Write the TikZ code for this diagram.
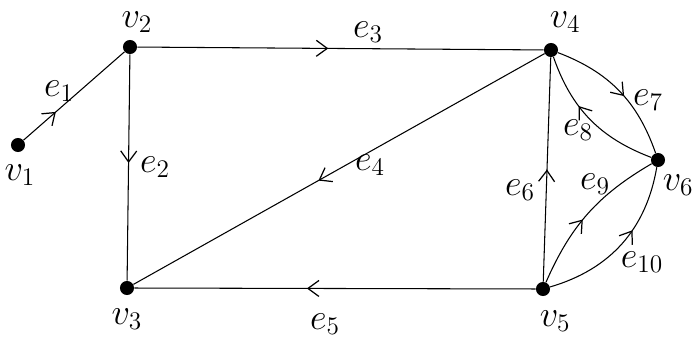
\documentclass[tikz,border=0pt]{standalone}
\usepackage{tikz}
\usetikzlibrary{positioning, arrows.meta, decorations.markings}
\tikzset{
  vtx/.style     = {circle, fill=black, inner sep=0pt, minimum size=8pt},
  vlbl/.style    = {inner sep=0pt, font=\huge},
  elbl/.style    = {inner sep=0pt, font=\huge},
  gedge/.style   = {line width=0.6pt},
  midarr/.style  = {gedge, postaction={decorate},
                    decoration={markings,
                      mark=at position #1 with {\arrow{Straight Barb[length=2.2mm, width=3.2mm, line width=0.7pt]}}}},
}

\begin{document}
\begin{tikzpicture}
  \useasboundingbox (0,0) rectangle (13.92,6.9);
  % vertices
  \node[vtx] (v1) at (0.36,4.00) {};
  \node[vtx] (v2) at (2.60,5.96) {};
  \node[vtx] (v3) at (2.54,1.14) {};
  \node[vtx] (v4) at (11.02,5.90) {};
  \node[vtx] (v5) at (10.86,1.12) {};
  \node[vtx] (v6) at (13.16,3.70) {};

  \node[vlbl] (n1) at (0.40,3.40) {$v_1$};
  \node[vlbl] (n2) at (2.74,6.46) {$v_2$};
  \node[vlbl] (n3) at (2.54,0.52) {$v_3$};
  \node[vlbl] (n4) at (11.30,6.46) {$v_4$};
  \node[vlbl] (n5) at (11.10,0.48) {$v_5$};
  \node[vlbl] (n6) at (13.56,3.20) {$v_6$};

  % edges
  \draw[midarr=0.32] (v1) -- (v2);
  \draw[midarr=0.48] (v2) -- (v3);
  \draw[midarr=0.47] (v2) -- (v4);
  \draw[midarr=0.55] (v4) -- (v3);
  \draw[midarr=0.57] (v5) -- (v3);
  \draw[midarr=0.50] (v5) -- (v4);
  \draw[midarr=0.55] (v4) to[bend left=25] (v6);
  \draw[midarr=0.62] (v6) to[bend left=25] (v4);
  \draw[midarr=0.45] (v5) to[bend left=18] (v6);
  \draw[midarr=0.60] (v5) to[bend right=32] (v6);

  \node[elbl] (e1) at (1.18,5.08) {$e_1$};
  \node[elbl] (e2) at (3.10,3.56) {$e_2$};
  \node[elbl] (e3) at (7.36,6.26) {$e_3$};
  \node[elbl] (e4) at (7.40,3.60) {$e_4$};
  \node[elbl] (e5) at (6.50,0.42) {$e_5$};
  \node[elbl] (e6) at (10.40,3.10) {$e_6$};
  \node[elbl] (e7) at (12.96,4.90) {$e_7$};
  \node[elbl] (e8) at (11.56,4.30) {$e_8$};
  \node[elbl] (e9) at (11.90,3.22) {$e_9$};
  \node[elbl] (e10) at (12.84,1.66) {$e_{10}$};
\end{tikzpicture}
\end{document}
